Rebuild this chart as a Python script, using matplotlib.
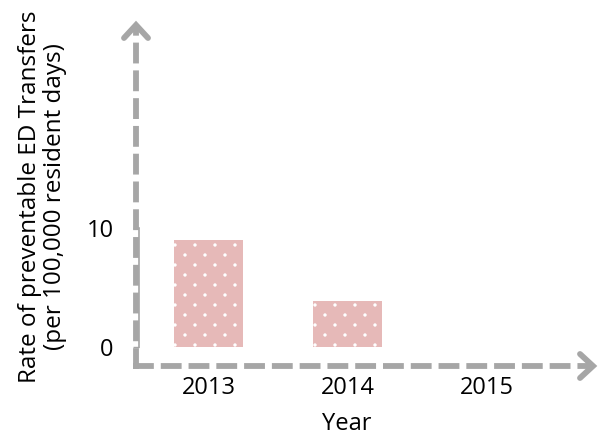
import matplotlib
matplotlib.use('Agg')
import matplotlib.pyplot as plt
import numpy as np
from matplotlib import hatch as mhatch
from matplotlib.path import Path

plt.rcParams['font.family'] = ['Open Sans', 'DejaVu Sans']
plt.rcParams['hatch.color'] = 'white'
plt.rcParams['hatch.linewidth'] = 0.0
plt.rcParams['lines.scale_dashes'] = False

# data
years = ['2013', '2014', '2015']
rates = [9.0, 3.9, 0.0]

bar_color = '#e6b9b8'
axis_gray = '#a6a6a6'
W, H = 600, 440
fs = 17


# staggered white dot texture (like the office "dotted" pattern fill)
class DotLattice(mhatch.HatchPatternBase):
    cols, rows, radius = 5, 10, 0.017

    def __init__(self, hatch, density):
        self.on = '.' in hatch
        circ = Path.unit_circle()
        self.cverts = circ.vertices * self.radius
        self.ccodes = circ.codes
        self.num_vertices = len(self.cverts) * self.cols * self.rows if self.on else 0

    def set_vertices_and_codes(self, vertices, codes):
        n = len(self.cverts)
        k = 0
        for j in range(self.rows):
            yy = (j + 0.5) / self.rows
            for i in range(self.cols):
                xx = (i + 0.25 + 0.5 * (j % 2)) / self.cols
                vertices[k:k + n] = self.cverts + [xx, yy]
                codes[k:k + n] = self.ccodes
                k += n


mhatch._hatch_types = [t for t in mhatch._hatch_types if t is not mhatch.SmallFilledCircles]
mhatch._hatch_types.append(DotLattice)

fig = plt.figure(figsize=(6, 4.4), dpi=100)

# main axes, placed in pixels: x from 139 to 600, y from 347 (value 0) up to 20
x0, y0 = 139, 347
px_per_x = 139.0
px_per_y = 11.9
ax = fig.add_axes([x0 / W, (H - y0) / H, (W - x0) / W, (y0 - 20) / H])
ax.set_xlim(-0.5, -0.5 + (W - x0) / px_per_x)
ax.set_ylim(0, (y0 - 20) / px_per_y)

xpos = list(range(len(years)))
ax.bar(xpos, rates, width=0.5, color=bar_color, hatch='.', linewidth=0, edgecolor='white')

ax.set_xticks(xpos)
ax.set_xticklabels(years, fontsize=fs)
ax.tick_params(axis='x', length=0, pad=21)
ax.set_yticks([0, 10])
ax.tick_params(axis='y', length=4.3, width=1, color=axis_gray, pad=14, labelsize=fs)

for s in ['top', 'right', 'bottom']:
    ax.spines[s].set_visible(False)
ax.spines['left'].set_color(axis_gray)
ax.spines['left'].set_linewidth(1.2)
ax.spines['left'].set_bounds(0, 10)

ax.set_xlabel('Year', fontsize=fs, labelpad=0)
ax.set_ylabel('Rate of preventable ED Transfers\n(per 100,000 resident days)', fontsize=17.5,
              linespacing=1.05)
ax.yaxis.set_label_coords(-72 / (W - x0), (y0 - 197) / (y0 - 20))
ax.xaxis.set_label_coords((347 - x0) / (W - x0), -65 / (y0 - 20))

# overlay in pixel coordinates for the dashed arrow axes
ov = fig.add_axes([0, 0, 1, 1], facecolor='none')
ov.set_xlim(0, W)
ov.set_ylim(H, 0)
ov.axis('off')
lw = 4.2
dash = (0, (15, 5))
cx, cy = 136, 366
ov.plot([cx, cx], [cy + 3, 26], color=axis_gray, lw=lw, linestyle=dash, dash_capstyle='butt')
ov.plot([cx - 3, 594], [cy, cy], color=axis_gray, lw=lw, linestyle=dash, dash_capstyle='butt')
# arrow heads
ov.plot([cx - 12, cx, cx + 12], [38, 25, 38], color=axis_gray, lw=lw, solid_capstyle='round',
        solid_joinstyle='miter')
ov.plot([580, 593, 580], [cy - 12, cy, cy + 12], color=axis_gray, lw=lw, solid_capstyle='round',
        solid_joinstyle='miter')

fig.savefig('out.png', dpi=100)
